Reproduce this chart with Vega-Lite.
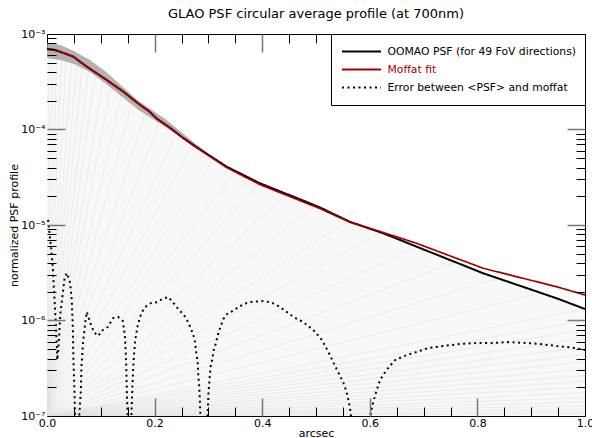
{
  "$schema": "https://vega.github.io/schema/vega-lite/v6.json",
  "width": 538,
  "height": 382,
  "autosize": "none",
  "padding": {"left": 47, "top": 34, "right": 7, "bottom": 22},
  "title": {"text": "GLAO PSF circular average profile (at 700nm)", "fontSize": 13, "font": "DejaVu Sans", "fontWeight": "normal", "color": "black", "offset": 7, "anchor": "middle"},
  "config": {
    "view": {"stroke": "black", "strokeWidth": 1, "fill": "white"},
    "font": "DejaVu Sans",
    "axis": {"grid": false, "domain": false, "labelFont": "DejaVu Sans", "titleFont": "DejaVu Sans", "labelColor": "black", "titleColor": "black", "labelFontSize": 11, "titleFontSize": 11, "titleFontWeight": "normal", "labelOverlap": false, "labelFlush": false, "labelBound": false}
  },
  "datasets": {
    "psf": [
      {"x": 0, "v": 6.95e-4}, {"x": 0.012, "v": 6.85e-4}, {"x": 0.024, "v": 6.53e-4}, {"x": 0.036, "v": 6.17e-4},
      {"x": 0.049, "v": 5.78e-4}, {"x": 0.06, "v": 5.2e-4}, {"x": 0.074, "v": 4.55e-4}, {"x": 0.09, "v": 3.96e-4},
      {"x": 0.111, "v": 3.3e-4}, {"x": 0.125, "v": 2.9e-4}, {"x": 0.142, "v": 2.49e-4}, {"x": 0.157, "v": 2.13e-4},
      {"x": 0.173, "v": 1.81e-4}, {"x": 0.19, "v": 1.55e-4}, {"x": 0.204, "v": 1.3e-4}, {"x": 0.229, "v": 1.04e-4},
      {"x": 0.25, "v": 8.4e-5}, {"x": 0.272, "v": 6.89e-5}, {"x": 0.3, "v": 5.43e-5}, {"x": 0.334, "v": 4.08e-5},
      {"x": 0.365, "v": 3.34e-5}, {"x": 0.396, "v": 2.73e-5}, {"x": 0.43, "v": 2.29e-5}, {"x": 0.458, "v": 1.98e-5},
      {"x": 0.507, "v": 1.53e-5}, {"x": 0.563, "v": 1.08e-5}, {"x": 0.625, "v": 8.19e-6}, {"x": 0.687, "v": 5.93e-6},
      {"x": 0.75, "v": 4.28e-6}, {"x": 0.811, "v": 3.12e-6}, {"x": 0.88, "v": 2.3e-6}, {"x": 0.947, "v": 1.71e-6},
      {"x": 1.0, "v": 1.32e-6}
    ],
    "moffat": [
      {"x": 0, "v": 6.95e-4}, {"x": 0.012, "v": 6.85e-4}, {"x": 0.024, "v": 6.53e-4}, {"x": 0.036, "v": 6.17e-4},
      {"x": 0.049, "v": 5.78e-4}, {"x": 0.06, "v": 5.2e-4}, {"x": 0.074, "v": 4.55e-4}, {"x": 0.09, "v": 3.96e-4},
      {"x": 0.111, "v": 3.3e-4}, {"x": 0.125, "v": 2.9e-4}, {"x": 0.142, "v": 2.49e-4}, {"x": 0.157, "v": 2.13e-4},
      {"x": 0.173, "v": 1.81e-4}, {"x": 0.19, "v": 1.55e-4}, {"x": 0.204, "v": 1.3e-4}, {"x": 0.229, "v": 1.04e-4},
      {"x": 0.25, "v": 8.35e-5}, {"x": 0.272, "v": 6.8e-5}, {"x": 0.3, "v": 5.35e-5}, {"x": 0.334, "v": 4.0e-5},
      {"x": 0.365, "v": 3.25e-5}, {"x": 0.396, "v": 2.65e-5}, {"x": 0.43, "v": 2.22e-5}, {"x": 0.458, "v": 1.92e-5},
      {"x": 0.507, "v": 1.49e-5}, {"x": 0.563, "v": 1.07e-5}, {"x": 0.625, "v": 8.34e-6}, {"x": 0.687, "v": 6.43e-6},
      {"x": 0.75, "v": 4.73e-6}, {"x": 0.811, "v": 3.52e-6}, {"x": 0.88, "v": 2.81e-6}, {"x": 0.947, "v": 2.26e-6},
      {"x": 1.0, "v": 1.85e-6}
    ],
    "err": [
      {"x": 0.002, "v": 1.13e-5}, {"x": 0.006, "v": 6.97e-6}, {"x": 0.009, "v": 4.85e-6}, {"x": 0.011, "v": 3.38e-6},
      {"x": 0.013, "v": 2.08e-6}, {"x": 0.015, "v": 1.29e-6}, {"x": 0.018, "v": 5.81e-7}, {"x": 0.019, "v": 3.86e-7},
      {"x": 0.021, "v": 4.9e-7}, {"x": 0.025, "v": 1.2e-6}, {"x": 0.03, "v": 2.08e-6}, {"x": 0.033, "v": 2.85e-6},
      {"x": 0.037, "v": 3.14e-6}, {"x": 0.043, "v": 2.47e-6}, {"x": 0.046, "v": 1.64e-6}, {"x": 0.048, "v": 8.55e-7},
      {"x": 0.049, "v": 4.15e-7}, {"x": 0.051, "v": 1.87e-7}, {"x": 0.052, "v": 1.07e-7}, {"x": 0.055, "v": 2e-8},
      {"x": 0.06, "v": 1.02e-7}, {"x": 0.063, "v": 1.87e-7}, {"x": 0.064, "v": 3.26e-7}, {"x": 0.067, "v": 5.81e-7},
      {"x": 0.071, "v": 9.42e-7}, {"x": 0.074, "v": 1.23e-6}, {"x": 0.08, "v": 9.6e-7}, {"x": 0.087, "v": 7.58e-7},
      {"x": 0.095, "v": 6.88e-7}, {"x": 0.104, "v": 7.96e-7}, {"x": 0.113, "v": 8.55e-7}, {"x": 0.123, "v": 1.06e-6},
      {"x": 0.132, "v": 1.09e-6}, {"x": 0.141, "v": 9.9e-7}, {"x": 0.145, "v": 6.71e-7}, {"x": 0.147, "v": 3.86e-7},
      {"x": 0.148, "v": 2.22e-7}, {"x": 0.149, "v": 1.37e-7}, {"x": 0.15, "v": 1.02e-7}, {"x": 0.153, "v": 2e-8},
      {"x": 0.157, "v": 1.07e-7}, {"x": 0.159, "v": 2.22e-7}, {"x": 0.161, "v": 3.86e-7}, {"x": 0.164, "v": 6.25e-7},
      {"x": 0.168, "v": 8.55e-7}, {"x": 0.173, "v": 1.09e-6}, {"x": 0.179, "v": 1.3e-6}, {"x": 0.185, "v": 1.42e-6},
      {"x": 0.193, "v": 1.52e-6}, {"x": 0.204, "v": 1.55e-6}, {"x": 0.214, "v": 1.68e-6}, {"x": 0.225, "v": 1.76e-6},
      {"x": 0.234, "v": 1.56e-6}, {"x": 0.241, "v": 1.38e-6}, {"x": 0.249, "v": 1.23e-6}, {"x": 0.257, "v": 1.09e-6},
      {"x": 0.263, "v": 9.42e-7}, {"x": 0.268, "v": 8.15e-7}, {"x": 0.272, "v": 7.05e-7}, {"x": 0.275, "v": 5.96e-7},
      {"x": 0.278, "v": 4.36e-7}, {"x": 0.28, "v": 3.67e-7}, {"x": 0.281, "v": 2.82e-7}, {"x": 0.283, "v": 2.01e-7},
      {"x": 0.284, "v": 1.47e-7}, {"x": 0.285, "v": 1.07e-7}, {"x": 0.291, "v": 2e-8}, {"x": 0.299, "v": 1.16e-7},
      {"x": 0.3, "v": 1.66e-7}, {"x": 0.302, "v": 2.38e-7}, {"x": 0.304, "v": 3.26e-7}, {"x": 0.308, "v": 4.15e-7},
      {"x": 0.31, "v": 4.91e-7}, {"x": 0.314, "v": 5.81e-7}, {"x": 0.319, "v": 7.58e-7}, {"x": 0.328, "v": 1.04e-6},
      {"x": 0.335, "v": 1.17e-6}, {"x": 0.345, "v": 1.26e-6}, {"x": 0.356, "v": 1.38e-6}, {"x": 0.366, "v": 1.49e-6},
      {"x": 0.377, "v": 1.56e-6}, {"x": 0.39, "v": 1.58e-6}, {"x": 0.402, "v": 1.6e-6}, {"x": 0.413, "v": 1.56e-6},
      {"x": 0.424, "v": 1.49e-6}, {"x": 0.44, "v": 1.3e-6}, {"x": 0.458, "v": 1.09e-6}, {"x": 0.476, "v": 9.64e-7},
      {"x": 0.495, "v": 7.96e-7}, {"x": 0.511, "v": 6.25e-7}, {"x": 0.523, "v": 4.68e-7}, {"x": 0.532, "v": 3.67e-7},
      {"x": 0.541, "v": 2.89e-7}, {"x": 0.551, "v": 2.22e-7}, {"x": 0.557, "v": 1.78e-7}, {"x": 0.561, "v": 1.4e-7},
      {"x": 0.564, "v": 1.13e-7}, {"x": 0.58, "v": 2e-8}, {"x": 0.604, "v": 1.24e-7}, {"x": 0.61, "v": 1.66e-7},
      {"x": 0.619, "v": 2.38e-7}, {"x": 0.631, "v": 3.03e-7}, {"x": 0.647, "v": 3.86e-7}, {"x": 0.669, "v": 4.36e-7},
      {"x": 0.687, "v": 4.68e-7}, {"x": 0.709, "v": 5.15e-7}, {"x": 0.737, "v": 5.41e-7}, {"x": 0.768, "v": 5.68e-7},
      {"x": 0.799, "v": 5.81e-7}, {"x": 0.83, "v": 5.81e-7}, {"x": 0.854, "v": 5.95e-7}, {"x": 0.892, "v": 5.81e-7},
      {"x": 0.916, "v": 5.68e-7}, {"x": 0.947, "v": 5.41e-7}, {"x": 0.966, "v": 5.28e-7}, {"x": 0.991, "v": 5.04e-7},
      {"x": 1.0, "v": 4.91e-7}
    ],
    "band": [
      {"x": 0, "hi": 8.05e-4, "lo": 5.61e-4}, {"x": 0.025, "hi": 7.67e-4, "lo": 5.34e-4},
      {"x": 0.05, "hi": 6.64e-4, "lo": 4.85e-4}, {"x": 0.08, "hi": 5.34e-4, "lo": 4.0e-4},
      {"x": 0.11, "hi": 4.0e-4, "lo": 2.99e-4}, {"x": 0.14, "hi": 2.82e-4, "lo": 2.19e-4},
      {"x": 0.17, "hi": 1.99e-4, "lo": 1.6e-4}, {"x": 0.22, "hi": 1.29e-4, "lo": 1.06e-4},
      {"x": 0.27, "hi": 7.6e-5, "lo": 6.9e-5}, {"x": 0.3, "hi": 5.5e-5, "lo": 5.3e-5}
    ],
    "fan": [
      {"ex": 0.004, "ey": 6.9e-4}, {"ex": 0.01, "ey": 6.88e-4}, {"ex": 0.018, "ey": 6.7e-4}, {"ex": 0.027, "ey": 6.45e-4},
      {"ex": 0.036, "ey": 6.17e-4}, {"ex": 0.046, "ey": 5.85e-4}, {"ex": 0.056, "ey": 5.4e-4}, {"ex": 0.066, "ey": 4.9e-4},
      {"ex": 0.078, "ey": 4.4e-4}, {"ex": 0.09, "ey": 3.96e-4}, {"ex": 0.105, "ey": 3.45e-4}, {"ex": 0.12, "ey": 3.0e-4},
      {"ex": 0.14, "ey": 2.52e-4}, {"ex": 0.16, "ey": 2.08e-4}, {"ex": 0.185, "ey": 1.62e-4}, {"ex": 0.21, "ey": 1.24e-4},
      {"ex": 0.24, "ey": 9.2e-5}, {"ex": 0.27, "ey": 7.0e-5}, {"ex": 0.31, "ey": 5.0e-5}, {"ex": 0.35, "ey": 3.7e-5},
      {"ex": 0.395, "ey": 2.75e-5}, {"ex": 0.445, "ey": 2.1e-5}, {"ex": 0.5, "ey": 1.6e-5}, {"ex": 0.56, "ey": 1.1e-5},
      {"ex": 0.62, "ey": 8.3e-6}, {"ex": 0.69, "ey": 5.9e-6}, {"ex": 0.76, "ey": 4.1e-6}, {"ex": 0.84, "ey": 2.8e-6},
      {"ex": 0.92, "ey": 1.95e-6}, {"ex": 1.0, "ey": 1.32e-6}, {"ex": 1.0, "ey": 1.0e-6}, {"ex": 1.0, "ey": 8e-7},
      {"ex": 1.0, "ey": 6.5e-7}, {"ex": 1.0, "ey": 5.3e-7}, {"ex": 1.0, "ey": 4.4e-7}, {"ex": 1.0, "ey": 3.7e-7},
      {"ex": 1.0, "ey": 3.1e-7}, {"ex": 1.0, "ey": 2.65e-7}, {"ex": 1.0, "ey": 2.3e-7}, {"ex": 1.0, "ey": 2.0e-7},
      {"ex": 1.0, "ey": 1.75e-7}, {"ex": 1.0, "ey": 1.55e-7}, {"ex": 1.0, "ey": 1.4e-7}, {"ex": 1.0, "ey": 1.28e-7},
      {"ex": 1.0, "ey": 1.18e-7}, {"ex": 1.0, "ey": 1.1e-7}, {"ex": 1.0, "ey": 1.05e-7}
    ]
  },
  "layer": [
    {
      "data": {"name": "psf"},
      "mark": {"type": "area", "color": "#f8f8f8", "clip": true},
      "encoding": {
        "x": {"field": "x", "type": "quantitative", "scale": {"domain": [0, 1], "nice": false, "zero": false},
          "axis": {"orient": "bottom", "values": [0, 0.2, 0.4, 0.6, 0.8, 1.0], "format": ".1f", "ticks": false, "labelPadding": 1, "title": "arcsec", "titlePadding": -1, "zindex": 1}},
        "y": {"field": "v", "type": "quantitative", "scale": {"type": "log", "domain": [1e-7, 1e-3], "nice": false},
          "axis": {"orient": "left", "values": [1e-3, 1e-4, 1e-5, 1e-6, 1e-7], "labelExpr": "'10' + ['⁻³','⁻⁴','⁻⁵','⁻⁶','⁻⁷'][round(-log(datum.value)/LN10)-3]", "ticks": false, "labelPadding": 2, "title": "normalized PSF profile", "titlePadding": 1, "zindex": 1}},
        "y2": {"datum": 1e-7}
      }
    },
    {
      "data": {"name": "fan"},
      "mark": {"type": "rule", "color": "#e0e0e0", "strokeWidth": 0.6, "clip": true},
      "encoding": {
        "x": {"field": "ex", "type": "quantitative",
          "axis": {"orient": "bottom", "values": [0.2, 0.4, 0.6, 0.8], "labels": false, "ticks": true, "tickSize": 18, "offset": -18, "tickColor": "#777", "tickWidth": 1.5, "title": null, "zindex": 1}},
        "y": {"field": "ey", "type": "quantitative",
          "axis": {"orient": "left", "values": [1e-4, 1e-5, 1e-6], "labels": false, "ticks": true, "tickSize": 18, "offset": -18, "tickColor": "#777", "tickWidth": 1.5, "title": null, "zindex": 1}},
        "x2": {"datum": 0},
        "y2": {"datum": 1e-7}
      }
    },
    {
      "data": {"name": "band"},
      "mark": {"type": "area", "color": "#a0a0a0", "opacity": 0.8},
      "encoding": {
        "x": {"field": "x", "type": "quantitative",
          "axis": {"orient": "bottom", "values": [0.05, 0.1, 0.15, 0.25, 0.3, 0.35, 0.45, 0.5, 0.55, 0.65, 0.7, 0.75, 0.85, 0.9, 0.95], "labels": false, "ticks": true, "tickSize": 9, "offset": -9, "tickColor": "black", "tickWidth": 1, "title": null, "zindex": 1}},
        "y": {"field": "hi", "type": "quantitative",
          "axis": {"orient": "left", "values": [2e-7, 3e-7, 4e-7, 5e-7, 6e-7, 7e-7, 8e-7, 9e-7, 2e-6, 3e-6, 4e-6, 5e-6, 6e-6, 7e-6, 8e-6, 9e-6, 2e-5, 3e-5, 4e-5, 5e-5, 6e-5, 7e-5, 8e-5, 9e-5, 2e-4, 3e-4, 4e-4, 5e-4, 6e-4, 7e-4, 8e-4, 9e-4], "labels": false, "ticks": true, "tickSize": 9, "offset": -9, "tickColor": "black", "tickWidth": 1, "title": null, "zindex": 1}},
        "y2": {"field": "lo"}
      }
    },
    {
      "data": {"name": "psf"},
      "mark": {"type": "line", "strokeWidth": 2, "clip": true},
      "encoding": {
        "x": {"field": "x", "type": "quantitative",
          "axis": {"orient": "top", "values": [0.2, 0.4, 0.6, 0.8], "labels": false, "ticks": true, "tickSize": 18, "offset": -18, "tickColor": "#777", "tickWidth": 1.5, "title": null, "zindex": 1}},
        "y": {"field": "v", "type": "quantitative",
          "axis": {"orient": "right", "values": [1e-4, 1e-5, 1e-6], "labels": false, "ticks": true, "tickSize": 18, "offset": -18, "tickColor": "#777", "tickWidth": 1.5, "title": null, "zindex": 1}},
        "color": {"datum": "OOMAO PSF (for 49 FoV directions)", "type": "nominal",
          "scale": {"domain": ["OOMAO PSF (for 49 FoV directions)", "Moffat fit", "Error between <PSF> and moffat"], "range": ["black", "#a50000", "black"]},
          "legend": {"orient": "top-right", "offset": 0, "title": null, "strokeColor": "black", "fillColor": "white", "padding": 8.5, "cornerRadius": 0,
            "symbolType": "M-1.5,0H1.5", "symbolSize": 676, "symbolOffset": 8, "labelOffset": 12, "symbolStrokeWidth": 2,
            "labelFontSize": 10.8, "labelFont": "DejaVu Sans", "labelLimit": 400, "rowPadding": 0, "clipHeight": 18, "zindex": 2,
            "encode": {"labels": {"update": {"fill": {"signal": "datum.label === 'Moffat fit' ? '#a50000' : 'black'"}}}}}},
        "strokeDash": {"datum": "OOMAO PSF (for 49 FoV directions)", "type": "nominal",
          "scale": {"domain": ["OOMAO PSF (for 49 FoV directions)", "Moffat fit", "Error between <PSF> and moffat"], "range": [[1, 0], [1, 0], [2, 3.5]]},
          "legend": {"orient": "top-right", "offset": 0, "title": null, "strokeColor": "black", "fillColor": "white", "padding": 8.5, "cornerRadius": 0,
            "symbolType": "M-1.5,0H1.5", "symbolSize": 676, "symbolOffset": 8, "labelOffset": 12, "symbolStrokeWidth": 2,
            "labelFontSize": 10.8, "labelFont": "DejaVu Sans", "labelLimit": 400, "rowPadding": 0, "clipHeight": 18, "zindex": 2,
            "encode": {"labels": {"update": {"fill": {"signal": "datum.label === 'Moffat fit' ? '#a50000' : 'black'"}}}}}}
      }
    },
    {
      "data": {"name": "moffat"},
      "mark": {"type": "line", "strokeWidth": 1.7, "clip": true},
      "encoding": {
        "x": {"field": "x", "type": "quantitative",
          "axis": {"orient": "top", "values": [0.05, 0.1, 0.15, 0.25, 0.3, 0.35, 0.45, 0.5, 0.55, 0.65, 0.7, 0.75, 0.85, 0.9, 0.95], "labels": false, "ticks": true, "tickSize": 9, "offset": -9, "tickColor": "black", "tickWidth": 1, "title": null, "zindex": 1}},
        "y": {"field": "v", "type": "quantitative",
          "axis": {"orient": "right", "values": [2e-7, 3e-7, 4e-7, 5e-7, 6e-7, 7e-7, 8e-7, 9e-7, 2e-6, 3e-6, 4e-6, 5e-6, 6e-6, 7e-6, 8e-6, 9e-6, 2e-5, 3e-5, 4e-5, 5e-5, 6e-5, 7e-5, 8e-5, 9e-5, 2e-4, 3e-4, 4e-4, 5e-4, 6e-4, 7e-4, 8e-4, 9e-4], "labels": false, "ticks": true, "tickSize": 9, "offset": -9, "tickColor": "black", "tickWidth": 1, "title": null, "zindex": 1}},
        "color": {"datum": "Moffat fit", "type": "nominal"},
        "strokeDash": {"datum": "Moffat fit", "type": "nominal"}
      }
    },
    {
      "data": {"name": "err"},
      "mark": {"type": "line", "strokeWidth": 2, "clip": true},
      "encoding": {
        "x": {"field": "x", "type": "quantitative", "axis": null},
        "y": {"field": "v", "type": "quantitative", "axis": null},
        "color": {"datum": "Error between <PSF> and moffat", "type": "nominal"},
        "strokeDash": {"datum": "Error between <PSF> and moffat", "type": "nominal"}
      }
    }
  ],
  "resolve": {"axis": {"x": "independent", "y": "independent"}}
}
